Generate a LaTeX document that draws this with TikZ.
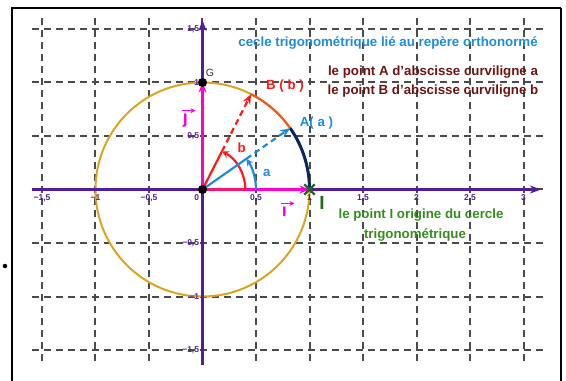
\documentclass[tikz,border=0pt]{standalone}
\usepackage{fontspec}
\setmainfont{Liberation Sans}
\usepackage{tikz}
\usetikzlibrary{arrows.meta,shapes.misc}

\definecolor{axisviolet}{RGB}{80,30,150}
\definecolor{circlegold}{RGB}{218,165,32}
\definecolor{arcorange}{RGB}{240,90,30}
\definecolor{arcnavy}{RGB}{10,40,90}
\definecolor{ptblue}{RGB}{30,140,215}
\definecolor{ptred}{RGB}{255,25,25}
\definecolor{basered}{RGB}{250,20,110}
\definecolor{txtmaroon}{RGB}{110,20,20}
\definecolor{txtgreen}{RGB}{55,140,30}
\definecolor{markgreen}{RGB}{30,110,30}
\definecolor{vecmagenta}{RGB}{255,0,210}
\definecolor{gridgray}{RGB}{75,75,75}

\begin{document}
\begin{tikzpicture}[x=107pt, y=107pt,
  gridline/.style={gridgray, line width=2pt, dash pattern=on 7pt off 5pt},
  axisline/.style={axisviolet, line width=2.2pt, -{Stealth[length=11pt,width=8pt]}},
  ticklabel/.style={axisviolet, font=\bfseries\fontsize{8.5}{9}\selectfont, inner sep=0pt},
  vecarrow/.style={vecmagenta, line width=2.4pt, -{Stealth[length=10pt,width=8pt]}},
  vecsign/.style={vecmagenta, line width=1.3pt, -{Stealth[length=5pt,width=5pt]}},
  anglemark/.style={line width=2.2pt, -{Stealth[length=7pt,width=7pt]}},
  rayline/.style={line width=2.2pt, dash pattern=on 6pt off 4pt, -{Stealth[length=10pt,width=8pt]}},
  info/.style={font=\bfseries\fontsize{13.3}{15}\selectfont, inner sep=0pt},
  dot/.style={circle, fill=black, inner sep=0pt, minimum size=9pt}
]
  \useasboundingbox (-1.8925,-1.7804) rectangle (3.3972,1.7710);

  \draw[line width=1.1pt] (-1.780,-1.80) -- (-1.780,1.696) -- (3.350,1.696);
  \draw[line width=1.8pt] (3.350,1.696) -- (3.350,-1.80);
  \node[circle, fill=black, inner sep=0pt, minimum size=4.5pt] (bullet) at (-1.846,-0.715) {};

  \foreach \x in {-1.5,-1,-0.5,0,0.5,1,1.5,2,2.5,3}
    \draw[gridline] (\x,1.603) -- (\x,-1.64);
  \foreach \y in {-1.5,-1,-0.5,0,0.5,1,1.5}
    \draw[gridline] (-1.593,\y) -- (3.182,\y);

  \coordinate (O) at (0,0);
  \coordinate (I) at (1,0);
  \coordinate (G) at (0,1);
  \coordinate (A) at (35:1);
  \coordinate (B) at (63:1);
  \coordinate (xs) at (-1.593,0);
  \coordinate (xe) at (3.163,0);
  \coordinate (ys) at (0,-1.64);
  \coordinate (ye) at (0,1.584);

  \draw[circlegold, line width=2pt] (O) circle[radius=1];
  \draw[arcorange, line width=2.2pt] (I) arc[start angle=0, end angle=63, radius=1];
  \draw[arcnavy, line width=3pt] (I) arc[start angle=0, end angle=35, radius=1];

  \draw[axisline] (xs) -- (xe);
  \draw[axisline] (ys) -- (ye);

  \foreach \v/\t in {-1.5/{−1,5},-1/{−1},-0.5/{−0,5},0.5/{0,5},1/1,1.5/{1,5},2/2,2.5/{2,5},3/3}
    \node[ticklabel, anchor=north] (xl\v) at (\v,-0.05) {\t};
  \node[ticklabel, anchor=north east] (xl0) at (-0.03,-0.05) {0};
  \foreach \v/\t in {-1.5/{−1,5},-1/{−1},-0.5/{−0,5},0.5/{0,5},1/1,1.5/{1,5}}
    \node[ticklabel, anchor=east] (yl\v) at (-0.03,\v) {\t};

  \draw[vecarrow] (O) -- (I);
  \draw[vecarrow] (O) -- (G);
  \draw[basered, line width=2.4pt] (O) -- (0.4,0);

  \draw[ptred, line width=2.2pt] (O) -- (63:0.4);
  \draw[ptred, anglemark] (0.4,0) arc[start angle=0, end angle=63, radius=0.4];
  \draw[ptblue, line width=2.2pt] (O) -- (35:0.5);
  \draw[ptblue, anglemark] (0.5,0) arc[start angle=0, end angle=35, radius=0.5];
  \draw[ptred, rayline] (63:0.4) -- (B);
  \draw[ptblue, rayline] (35:0.5) -- (A);

  \node[dot] (Odot) at (O) {};
  \node[dot] (Gdot) at (G) {};
  \node[draw=markgreen, cross out, line width=2.4pt, minimum size=8pt, inner sep=0pt] (Imark) at (I) {};

  \node[font=\fontsize{10.5}{12}\selectfont, text=black!80] (Glabel) at (0.07,1.089) {G};
  \node[info, text=ptred] (Blabel) at (0.771,0.967) {B ( b )};
  \node[info, text=ptblue] (Alabel) at (1.065,0.621) {A( a )};
  \node[info, text=ptblue] (alabel) at (0.6,0.154) {a};
  \node[info, text=ptred] (blabel) at (0.366,0.388) {b};
  \node[info, text=vecmagenta, font=\bfseries\fontsize{18}{20}\selectfont] (ilabel) at (0.766,-0.205) {\i};
  \draw[vecsign] ([xshift=-3pt,yshift=3pt]ilabel.north) -- ++(13pt,0);
  \node[info, text=vecmagenta, font=\bfseries\fontsize{18}{20}\selectfont] (jlabel) at (-0.159,0.645) {\j};
  \draw[vecsign] ([xshift=-3pt,yshift=3pt]jlabel.north) -- ++(13pt,0);
  \node[info, text=markgreen, font=\bfseries\fontsize{19}{21}\selectfont] (Ilabel) at (1.117,-0.126) {I};

  \node[info, text=ptblue] (title) at (1.734,1.369) {cecle trigonométrique lié au repère orthonormé};
  \node[info, text=txtmaroon] (infoA) at (2.154,1.098) {le point A d'abscisse curviligne a};
  \node[info, text=txtmaroon] (infoB) at (2.154,0.921) {le point B d'abscisse curviligne b};
  \node[info, text=txtgreen] (infoI) at (2.042,-0.238) {le point I origine du cercle};
  \node[info, text=txtgreen] (infoI2) at (1.986,-0.425) {trigonométrique};
\end{tikzpicture}
\end{document}
